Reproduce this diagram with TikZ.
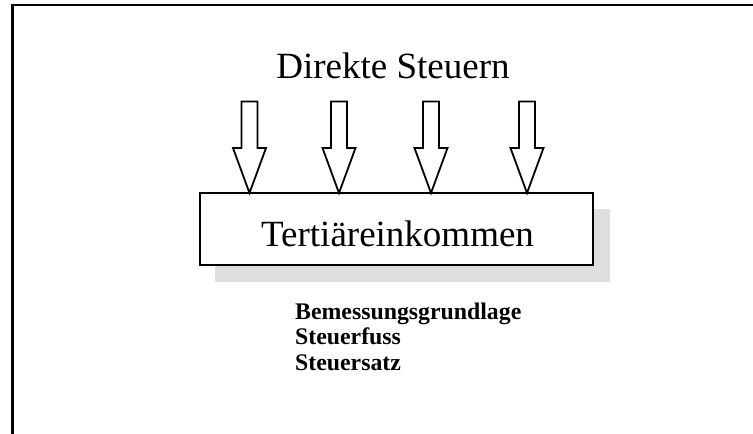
\documentclass[tikz,border=0pt]{standalone}
\usepackage{fontspec}
\setmainfont{Liberation Serif}
\begin{document}
\begin{tikzpicture}[x=1pt,y=-1pt,
  framestyle/.style={line width=2.8pt,black},
  boxstyle/.style={draw,line width=2pt,fill=white,inner sep=0pt},
  shadowstyle/.style={fill=black!13,draw=none},
  blockarrow/.style={draw,line width=1.8pt,fill=white,line join=miter},
  bigtext/.style={font=\fontsize{37}{40}\selectfont,inner sep=0pt},
  listtext/.style={font=\fontsize{23.8}{25.5}\selectfont\bfseries,inner sep=0pt,align=left}]
\useasboundingbox (0,0) rectangle (753,434);
% frame
\coordinate (ftl) at (12.5,5);
\coordinate (fbl) at (12.5,434);
\coordinate (ftr) at (753,5);
\draw[framestyle] (fbl) -- (ftl) -- (ftr);
% shadow
\fill[shadowstyle] (215,208.5) rectangle (610,281.5);
% box
\node[boxstyle,minimum width=393pt,minimum height=72pt] (box) at (396.5,229) {};
\node[bigtext,anchor=base] (tert) at (397.5,246.7) {Tertiäreinkommen};
% title
\node[bigtext,anchor=base] (title) at (393,78.3) {Direkte Steuern};
% arrows
\foreach \i/\cx in {1/249.5,2/339,3/431,4/527}{
  \coordinate (tip\i) at (\cx,193);
  \draw[blockarrow] (tip\i) -- ++(-16.5,-45) -- ++(8.5,0) -- ++(0,-46.5)
     -- ++(16,0) -- ++(0,46.5) -- ++(8.5,0) -- cycle;
}
% list
\node[listtext,anchor=base west] (l1) at (295,319.3) {Bemessungsgrundlage};
\node[listtext,anchor=base west] (l2) at (295,344.5) {Steuerfuss};
\node[listtext,anchor=base west] (l3) at (295,370) {Steuersatz};
\end{tikzpicture}
\end{document}
